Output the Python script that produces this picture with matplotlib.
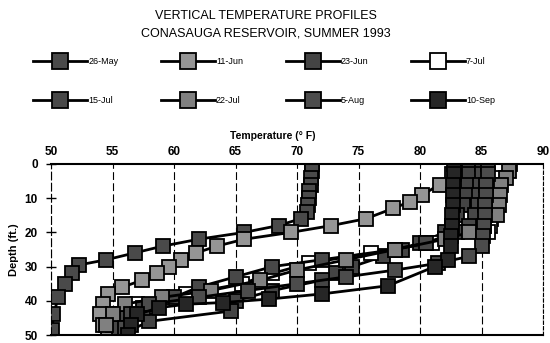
import numpy as np
import matplotlib.pyplot as plt

plt.rcParams['font.family'] = ['Liberation Sans', 'DejaVu Sans']

# depth (ft) / temperature (F) profiles
d_26may = [0, 2, 4, 6, 8, 10, 12, 14, 16, 18, 20, 22, 24, 26, 28, 29.5, 32, 35, 39, 44, 48.5]
t_26may = [71.2, 71.2, 71.1, 71.1, 71.0, 71.0, 70.9, 70.8, 70.3, 68.5, 65.7, 62.0, 59.1,
           56.8, 54.5, 52.3, 51.7, 51.1, 50.6, 50.2, 50.1]

d_11jun = [0, 3, 6, 9, 11, 13, 16, 18, 20, 22, 24, 26, 28, 30, 32, 34, 36, 38, 41, 44, 47, 50]
t_11jun = [83.0, 82.6, 81.6, 80.2, 79.2, 77.8, 75.6, 72.8, 69.5, 65.7, 63.5, 61.8, 60.6,
           59.6, 58.6, 57.4, 55.8, 54.6, 54.2, 54.0, 54.2, 54.6]

d_23jun = [0, 3, 6, 9, 12, 15, 18, 20, 23, 25, 27, 30, 32, 34, 37, 40, 43, 46, 49]
t_23jun = [84.0, 84.0, 83.9, 83.8, 83.5, 83.0, 82.6, 82.0, 80.0, 78.5, 77.0, 74.5, 73.2,
           72.0, 68.0, 65.0, 64.6, 58.0, 56.2]

d_7jul = [0, 2, 4, 6, 8, 10, 12, 14, 16, 18, 20, 23, 26, 29, 32, 35, 38, 41, 44, 47]
t_7jul = [86.2, 86.2, 86.1, 86.0, 86.0, 86.0, 85.9, 85.9, 85.8, 85.7, 85.5, 81.0, 76.0,
          71.0, 68.0, 65.5, 61.0, 57.0, 55.5, 55.0]

d_15jul = [0, 3, 6, 9, 12, 15, 18, 20, 23, 25, 28, 30, 33, 36, 39, 42, 45, 48]
t_15jul = [85.0, 85.0, 84.9, 84.8, 84.7, 84.5, 84.0, 83.0, 80.5, 78.0, 72.0, 68.0, 65.0,
           62.0, 60.0, 57.5, 56.0, 55.5]

d_22jul = [0, 2, 4, 6, 9, 12, 15, 18, 20, 22, 25, 28, 31, 34, 37, 39, 41, 44, 47]
t_22jul = [87.3, 87.2, 87.0, 86.6, 86.5, 86.4, 86.3, 85.2, 84.0, 82.0, 78.0, 74.0, 70.0,
           67.0, 63.0, 59.0, 56.0, 55.0, 54.5]

d_5aug = [0, 3, 6, 9, 12, 15, 18, 21, 24, 27, 29, 31, 33, 35, 37, 39, 41, 44, 48]
t_5aug = [85.5, 85.5, 85.4, 85.4, 85.3, 85.3, 85.2, 85.1, 85.0, 84.0, 81.5, 78.0, 74.0,
          70.0, 66.0, 62.0, 58.0, 56.5, 56.0]

d_10sep = [0, 3, 6, 9, 12, 15, 18, 21, 24, 28, 30, 35.6, 38, 39.5, 40.5, 41, 42, 44, 47, 50]
t_10sep = [82.8, 82.8, 82.7, 82.7, 82.7, 82.6, 82.6, 82.5, 82.5, 82.3, 81.2, 77.4, 72.0,
           67.7, 64.0, 61.0, 58.8, 57.0, 56.5, 56.3]

labels = ['26-May', '11-Jun', '23-Jun', '7-Jul', '15-Jul', '22-Jul', '5-Aug', '10-Sep']
depths = [d_26may, d_11jun, d_23jun, d_7jul, d_15jul, d_22jul, d_5aug, d_10sep]
temps = [t_26may, t_11jun, t_23jun, t_7jul, t_15jul, t_22jul, t_5aug, t_10sep]
fills = ['#4a4a4a', '#959595', '#444444', 'white', '#484848', '#808080', '#4c4c4c', '#262626']

fig = plt.figure(figsize=(5.5, 3.43), dpi=100)
ax = fig.add_axes([51 / 550, 1 - 335 / 343, 492 / 550, 171 / 343])

lines = []
for d, t, lab, fc in zip(depths, temps, labels, fills):
    ln, = ax.plot(t, d, color='black', linewidth=2, marker='s', markersize=10.5,
                  markerfacecolor=fc, markeredgecolor='black', markeredgewidth=1.3, label=lab)
    lines.append(ln)

ax.set_xlim(50, 90)
ax.set_ylim(50, 0)
ax.set_xticks(range(50, 91, 5))
ax.set_yticks(range(0, 51, 10))
ax.xaxis.tick_top()
ax.xaxis.set_label_position('top')
ax.tick_params(axis='x', length=0, pad=4, labelsize=8.5)
ax.tick_params(axis='y', direction='inout', length=7, width=1, pad=6, labelsize=8.5)
for lbl in ax.get_xticklabels() + ax.get_yticklabels():
    lbl.set_fontweight('bold')

ax.grid(axis='x', color='black', linestyle=(0, (7, 3)), linewidth=0.8)
ax.spines['top'].set_linewidth(1.5)
ax.spines['bottom'].set_linewidth(1.5)
ax.spines['left'].set_linewidth(0.8)
ax.spines['left'].set_linestyle((0, (7, 3)))
ax.spines['right'].set_linewidth(0.8)
ax.spines['right'].set_linestyle((0, (3, 2)))

ax.set_xlabel('Temperature (° F)', fontsize=7.5, fontweight='bold', labelpad=5, x=0.45)
ax.set_ylabel('Depth (ft.)', fontsize=8, fontweight='bold', labelpad=4)

fig.text(0.483, 1 - 16 / 343, 'VERTICAL TEMPERATURE PROFILES', ha='center', va='center',
         fontsize=9)
fig.text(0.483, 1 - 34 / 343, 'CONASAUGA RESERVOIR, SUMMER 1993', ha='center', va='center',
         fontsize=9)

# legend fills row by row
order = [0, 4, 1, 5, 2, 6, 3, 7]
fig.legend([lines[i] for i in order], [labels[i] for i in order],
           loc='upper left', bbox_to_anchor=(33 / 550, 1 - 117 / 343, 462 / 550, 60 / 343),
           mode='expand', ncol=4, frameon=False, fontsize=6.5, handlelength=6,
           handletextpad=0.1, labelspacing=3.3, borderaxespad=0, borderpad=0,
           markerscale=1.1)

fig.savefig('out.png', dpi=100)
